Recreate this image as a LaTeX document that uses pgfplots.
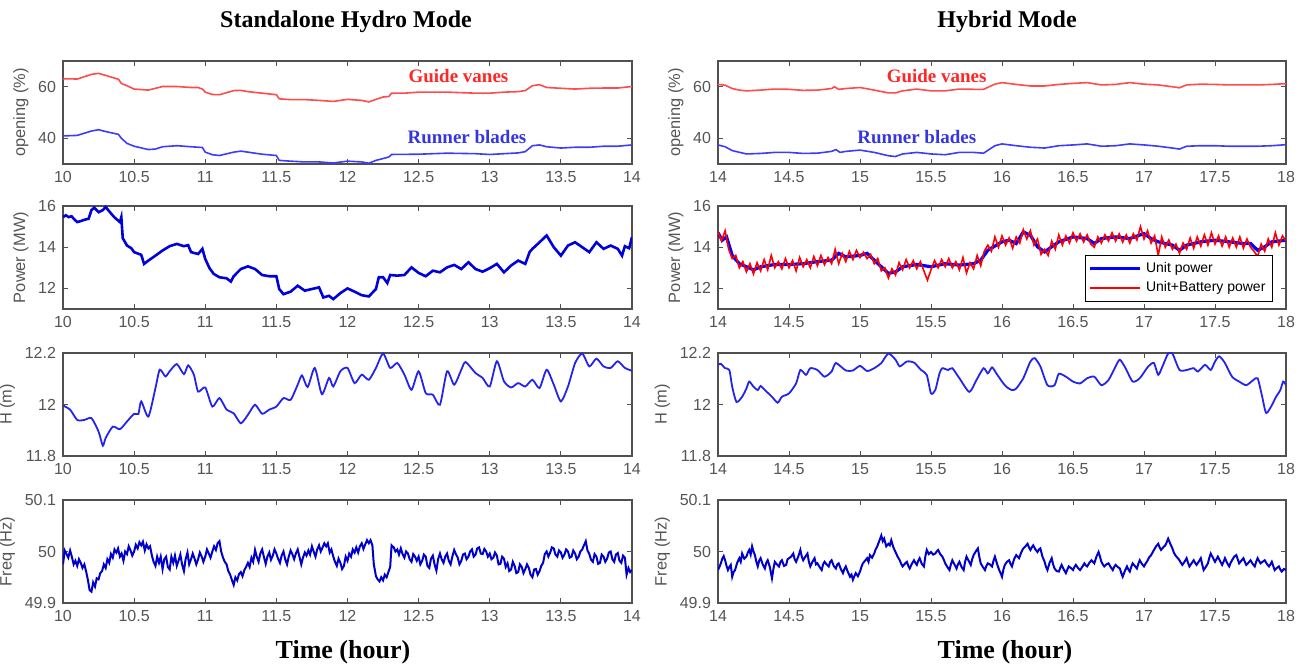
\documentclass[border=0pt]{standalone}
\usepackage{fontspec}
\setmainfont{Liberation Sans}
\newfontfamily\titlefont{Liberation Serif}
\usepackage{pgfplots}
\pgfplotsset{compat=1.18}
\definecolor{axgray}{RGB}{80,80,80}
\definecolor{tkgray}{RGB}{85,85,85}
\definecolor{gvred}{RGB}{255,75,75}
\definecolor{rbblue}{RGB}{60,60,250}
\definecolor{pblue}{RGB}{0,0,220}
\definecolor{hblue}{RGB}{35,35,240}
\definecolor{fblue}{RGB}{0,0,205}
\definecolor{ured}{RGB}{255,0,0}
\pgfplotsset{
 panel/.style={scale only axis, height=51.5pt, anchor=south west,
  axis line style={axgray, line width=0.6pt},
  major tick style={axgray, line width=0.5pt}, major tick length=2.5pt, tick align=inside,
  tick label style={font=\fontsize{8}{9}\selectfont, text=tkgray},
  /pgf/number format/assume math mode=true,
  ylabel style={font=\fontsize{8.2}{9.5}\selectfont, text=tkgray},
  ylabel shift=-2pt,
  legend image code/.code={\draw[#1] (0pt,0pt) -- (25pt,0pt);}},
 leftp/.style={panel, width=284.5pt, xmin=10, xmax=14, xtick={10,10.5,...,14}},
 rightp/.style={panel, width=284pt, xmin=14, xmax=18, xtick={14,14.5,...,18}},
 r1/.style={ymin=30, ymax=70, ytick={40,60}, ylabel={opening (\%)}},
 r2/.style={ymin=11, ymax=16, ytick={12,14,16}, ylabel={Power (MW)}},
 r3/.style={ymin=11.8, ymax=12.2, ytick={11.8,12,12.2}, ylabel={H (m)}},
 r4/.style={ymin=49.9, ymax=50.1, ytick={49.9,50,50.1}, ylabel={Freq (Hz)}},
}
\newcommand{\lbl}{\titlefont\bfseries\fontsize{9.5}{11}\selectfont}
\begin{document}
\begin{tikzpicture}
\path[use as bounding box] (0,0) rectangle (653pt,-333.5pt);
\node[font=\titlefont\bfseries\fontsize{12}{14}\selectfont] at (173pt,-11pt) {Standalone Hydro Mode};
\node[font=\titlefont\bfseries\fontsize{12}{14}\selectfont] at (503.5pt,-11pt) {Hybrid Mode};
\node[font=\titlefont\bfseries\fontsize{13}{15}\selectfont] at (171.5pt,-326pt) {Time (hour)};
\node[font=\titlefont\bfseries\fontsize{13}{15}\selectfont] at (502.5pt,-326pt) {Time (hour)};

% ---------- Row 1 left
\begin{axis}[leftp, r1, at={(31.5pt,-82pt)}]
\addplot[gvred, line width=0.8pt] coordinates {(10.0,63.1)(10.1,63.0)(10.2,64.8)(10.25,65.2)(10.3,64.4)(10.39,62.9)(10.41,61.3)(10.45,60.4)(10.5,59.1)(10.6,58.7)(10.65,59.4)(10.7,60.1)(10.8,60.1)(10.9,59.7)(10.95,59.7)(10.98,59.1)(11.0,57.9)(11.05,57.0)(11.1,56.9)(11.2,58.5)(11.25,58.6)(11.3,58.1)(11.4,57.5)(11.5,56.9)(11.52,55.3)(11.6,55.0)(11.7,55.0)(11.8,54.7)(11.9,54.3)(12.0,55.1)(12.1,54.7)(12.15,54.1)(12.2,55.1)(12.25,56.0)(12.29,56.2)(12.31,57.5)(12.4,57.5)(12.5,57.9)(12.7,57.9)(12.9,57.5)(13.0,57.5)(13.1,57.9)(13.2,58.1)(13.25,58.5)(13.3,60.4)(13.35,60.8)(13.4,59.7)(13.5,59.4)(13.6,59.1)(13.7,59.4)(13.8,59.5)(13.9,59.5)(14.0,60.1)};
\addplot[rbblue, line width=0.8pt] coordinates {(10.0,40.9)(10.1,41.1)(10.2,42.8)(10.25,43.3)(10.3,42.6)(10.39,41.5)(10.41,40.0)(10.45,38.0)(10.5,36.9)(10.6,35.6)(10.65,35.8)(10.7,36.7)(10.8,37.1)(10.9,36.7)(10.98,36.4)(11.0,34.6)(11.05,33.6)(11.1,33.3)(11.2,34.6)(11.25,35.0)(11.3,34.6)(11.4,33.8)(11.5,33.3)(11.52,31.4)(11.6,31.1)(11.7,30.8)(11.8,30.8)(11.9,30.4)(12.0,31.1)(12.1,30.8)(12.15,30.3)(12.2,31.4)(12.29,32.7)(12.31,33.7)(12.5,33.8)(12.7,34.2)(12.9,34.0)(13.0,33.7)(13.1,34.0)(13.2,34.3)(13.25,34.8)(13.3,37.1)(13.35,37.4)(13.4,36.7)(13.5,36.2)(13.6,36.5)(13.7,36.5)(13.8,36.9)(13.9,36.9)(14.0,37.4)};
\node[text=ured!85, font=\lbl] at (axis cs:12.78,64.2) {Guide vanes};
\node[text=rbblue!90!black, font=\lbl] at (axis cs:12.84,40.4) {Runner blades};
\end{axis}

% ---------- Row 1 right
\begin{axis}[rightp, r1, at={(359pt,-82pt)}]
\addplot[gvred, line width=0.8pt] coordinates {(14.0,60.9)(14.05,60.6)(14.1,59.3)(14.15,58.7)(14.2,58.4)(14.3,58.7)(14.4,59.1)(14.5,59.0)(14.6,58.6)(14.7,58.7)(14.8,59.3)(14.82,60.0)(14.85,59.0)(14.9,59.3)(15.0,59.7)(15.1,58.7)(15.2,57.6)(15.25,57.6)(15.3,58.4)(15.4,59.1)(15.5,58.4)(15.6,58.4)(15.7,59.1)(15.8,59.0)(15.87,59.0)(15.95,61.0)(16.0,61.6)(16.1,60.9)(16.2,60.3)(16.3,60.3)(16.4,60.9)(16.5,61.3)(16.6,61.6)(16.7,60.7)(16.8,60.9)(16.9,61.6)(17.0,61.0)(17.1,60.7)(17.2,60.0)(17.25,59.6)(17.3,60.7)(17.4,61.0)(17.5,60.9)(17.6,60.7)(17.7,60.7)(17.8,60.7)(17.9,60.9)(18.0,61.2)};
\addplot[rbblue, line width=0.8pt] coordinates {(14.0,37.4)(14.05,36.7)(14.1,35.2)(14.2,33.9)(14.3,34.1)(14.4,34.5)(14.5,34.5)(14.6,34.1)(14.7,34.2)(14.8,34.9)(14.83,35.6)(14.86,34.5)(14.9,34.9)(15.0,35.4)(15.1,34.5)(15.2,33.2)(15.25,32.9)(15.3,33.9)(15.4,34.5)(15.5,33.9)(15.6,33.6)(15.7,34.5)(15.8,34.5)(15.87,34.2)(15.95,37.1)(16.0,37.8)(16.1,37.1)(16.2,36.5)(16.3,36.2)(16.4,37.1)(16.5,37.4)(16.6,37.8)(16.7,36.9)(16.8,37.1)(16.9,37.8)(17.0,37.4)(17.1,36.9)(17.2,36.2)(17.25,35.8)(17.3,36.9)(17.4,37.1)(17.5,37.1)(17.6,36.9)(17.7,36.9)(17.8,36.9)(17.9,37.1)(18.0,37.5)};
\node[text=ured!85, font=\lbl] at (axis cs:15.54,64.2) {Guide vanes};
\node[text=rbblue!90!black, font=\lbl] at (axis cs:15.40,40.4) {Runner blades};
\end{axis}

% ---------- Row 2 left
\begin{axis}[leftp, r2, at={(31.5pt,-154.5pt)}]
\addplot[pblue, line width=1.3pt] coordinates {(10.0,15.46)(10.02,15.55)(10.04,15.46)(10.06,15.5)(10.08,15.35)(10.1,15.22)(10.13,15.28)(10.15,15.33)(10.18,15.38)(10.2,15.8)(10.22,15.92)(10.25,15.7)(10.28,15.8)(10.3,15.95)(10.33,15.7)(10.36,15.46)(10.4,15.22)(10.41,15.46)(10.42,14.44)(10.45,14.08)(10.48,13.95)(10.5,13.76)(10.55,13.63)(10.57,13.19)(10.6,13.35)(10.65,13.59)(10.7,13.84)(10.75,14.05)(10.8,14.16)(10.85,14.05)(10.88,14.1)(10.9,13.76)(10.95,13.67)(10.98,13.92)(11.0,13.43)(11.03,12.98)(11.06,12.7)(11.1,12.54)(11.15,12.49)(11.18,12.33)(11.2,12.59)(11.25,12.94)(11.3,13.07)(11.35,12.94)(11.4,12.65)(11.45,12.59)(11.5,12.59)(11.52,11.97)(11.55,11.72)(11.6,11.84)(11.65,12.13)(11.7,11.89)(11.75,11.97)(11.8,12.05)(11.83,11.56)(11.87,11.64)(11.9,11.48)(11.95,11.77)(12.0,12.0)(12.05,11.84)(12.1,11.67)(12.15,11.61)(12.2,11.97)(12.22,12.54)(12.25,12.54)(12.28,12.26)(12.3,12.65)(12.35,12.62)(12.4,12.65)(12.45,13.02)(12.5,12.75)(12.55,12.59)(12.6,12.86)(12.65,12.78)(12.7,13.02)(12.75,13.14)(12.8,12.94)(12.85,13.27)(12.9,12.94)(12.95,12.81)(13.0,12.98)(13.05,13.19)(13.1,12.78)(13.15,13.11)(13.2,13.35)(13.25,13.19)(13.28,13.76)(13.3,13.92)(13.35,14.24)(13.4,14.57)(13.45,14.0)(13.5,13.59)(13.55,14.08)(13.6,14.24)(13.65,14.0)(13.7,13.76)(13.75,14.24)(13.8,13.92)(13.85,14.08)(13.9,13.92)(13.93,13.59)(13.95,14.05)(13.98,13.95)(14.0,14.49)};
\end{axis}

% ---------- Row 2 right
\begin{axis}[rightp, r2, at={(359pt,-154.5pt)},
  legend style={at={(0.977,0.068)}, anchor=south east, font=\fontsize{7}{8}\selectfont, draw=black, line width=0.5pt, inner sep=1.5pt, row sep=-1pt, cells={anchor=west}}]
\addplot[blue, line width=1.6pt] coordinates {(14.0,14.7)(14.03,14.34)(14.06,14.5)(14.1,13.6)(14.15,13.2)(14.2,13.05)(14.25,12.9)(14.3,13.05)(14.4,13.16)(14.5,13.16)(14.6,13.2)(14.7,13.3)(14.8,13.37)(14.85,13.7)(14.9,13.53)(15.0,13.6)(15.05,13.7)(15.1,13.37)(15.15,13.05)(15.2,12.73)(15.25,12.8)(15.3,13.05)(15.4,13.16)(15.5,13.05)(15.6,13.2)(15.7,13.13)(15.8,13.2)(15.85,13.37)(15.9,13.85)(16.0,14.26)(16.05,14.34)(16.1,14.18)(16.15,14.74)(16.2,14.58)(16.25,14.02)(16.3,13.77)(16.35,14.02)(16.4,14.26)(16.5,14.5)(16.6,14.42)(16.65,14.18)(16.7,14.42)(16.8,14.5)(16.9,14.42)(17.0,14.66)(17.05,14.42)(17.1,14.26)(17.2,14.1)(17.25,13.85)(17.3,14.1)(17.4,14.26)(17.5,14.34)(17.6,14.26)(17.7,14.18)(17.75,14.18)(17.8,13.85)(17.85,14.02)(17.9,14.26)(18.0,14.34)};
\addlegendentry{Unit power}
\addplot[ured, line width=0.8pt] coordinates {(14.0,14.75)(14.025,14.3)(14.05,14.8)(14.075,13.9)(14.1,13.45)(14.125,13.6)(14.15,13.0)(14.175,13.3)(14.2,12.8)(14.225,13.2)(14.25,12.7)(14.275,13.25)(14.3,12.85)(14.325,13.4)(14.35,12.9)(14.375,13.6)(14.4,13.0)(14.425,13.3)(14.45,12.95)(14.475,13.45)(14.5,13.0)(14.525,13.35)(14.55,12.85)(14.575,13.5)(14.6,13.05)(14.625,13.4)(14.65,13.0)(14.675,13.55)(14.7,13.1)(14.725,13.6)(14.75,13.15)(14.775,13.5)(14.8,13.2)(14.825,13.9)(14.85,13.2)(14.875,13.7)(14.9,13.3)(14.925,13.8)(14.95,13.4)(14.975,13.85)(15.0,13.5)(15.025,13.75)(15.05,13.45)(15.075,13.65)(15.1,13.2)(15.125,13.45)(15.15,12.85)(15.175,13.0)(15.2,12.5)(15.225,12.95)(15.25,12.65)(15.275,13.25)(15.3,12.9)(15.325,13.4)(15.35,13.0)(15.375,13.35)(15.4,12.95)(15.425,13.3)(15.45,12.85)(15.475,12.4)(15.5,12.9)(15.525,13.35)(15.55,13.0)(15.575,13.4)(15.6,13.05)(15.625,13.45)(15.65,13.0)(15.675,13.3)(15.7,12.9)(15.725,13.5)(15.75,12.75)(15.775,13.25)(15.8,12.95)(15.825,13.6)(15.85,13.1)(15.875,13.8)(15.9,14.1)(15.925,13.8)(15.95,14.5)(15.975,14.0)(16.0,14.55)(16.025,14.1)(16.05,14.45)(16.075,13.95)(16.1,14.5)(16.125,14.2)(16.15,14.85)(16.175,14.4)(16.2,14.8)(16.225,14.1)(16.25,14.4)(16.275,13.65)(16.3,13.9)(16.325,13.6)(16.35,14.3)(16.375,13.9)(16.4,14.6)(16.425,14.1)(16.45,14.55)(16.475,14.2)(16.5,14.7)(16.525,14.3)(16.55,14.65)(16.575,14.25)(16.6,14.6)(16.625,14.15)(16.65,14.0)(16.675,14.5)(16.7,14.2)(16.725,14.6)(16.75,14.3)(16.775,14.7)(16.8,14.3)(16.825,14.65)(16.85,14.25)(16.875,14.6)(16.9,14.2)(16.925,14.65)(16.95,14.35)(16.975,15.0)(17.0,14.4)(17.025,14.8)(17.05,14.2)(17.075,14.55)(17.1,13.6)(17.125,14.5)(17.15,14.0)(17.175,14.35)(17.2,13.9)(17.225,14.15)(17.25,13.7)(17.275,14.2)(17.3,13.9)(17.325,14.45)(17.35,13.95)(17.375,14.5)(17.4,14.05)(17.425,14.6)(17.45,14.1)(17.475,14.7)(17.5,14.15)(17.525,14.55)(17.55,14.05)(17.575,14.5)(17.6,14.0)(17.625,14.45)(17.65,14.0)(17.675,14.5)(17.7,13.95)(17.725,14.4)(17.75,14.0)(17.775,13.8)(17.8,13.55)(17.825,14.15)(17.85,13.8)(17.875,14.4)(17.9,14.0)(17.925,14.7)(17.95,14.1)(17.975,14.55)(18.0,14.3)};
\addlegendentry{Unit+Battery power}
\end{axis}

% ---------- Row 3 left
\begin{axis}[leftp, r3, at={(31.5pt,-228pt)}]
\addplot[hblue, line width=0.9pt, smooth, tension=0.4] coordinates {(10.0,11.996)(10.05,11.98)(10.1,11.94)(10.15,11.94)(10.2,11.947)(10.25,11.895)(10.28,11.84)(10.3,11.87)(10.35,11.914)(10.4,11.904)(10.45,11.934)(10.5,11.964)(10.53,11.963)(10.55,12.012)(10.6,11.953)(10.65,12.064)(10.68,12.135)(10.72,12.109)(10.75,12.129)(10.8,12.157)(10.85,12.118)(10.88,12.152)(10.92,12.116)(10.95,12.05)(11.0,12.066)(11.05,11.992)(11.1,12.025)(11.15,11.98)(11.2,11.966)(11.25,11.927)(11.3,11.96)(11.35,11.999)(11.4,11.964)(11.45,11.98)(11.5,11.992)(11.55,12.025)(11.6,12.018)(11.65,12.077)(11.68,12.113)(11.72,12.068)(11.77,12.142)(11.82,12.04)(11.87,12.103)(11.9,12.07)(11.95,12.129)(12.0,12.142)(12.05,12.083)(12.1,12.116)(12.15,12.096)(12.2,12.142)(12.25,12.198)(12.3,12.142)(12.35,12.161)(12.4,12.116)(12.45,12.057)(12.5,12.129)(12.55,12.044)(12.6,12.038)(12.65,11.999)(12.7,12.129)(12.75,12.077)(12.8,12.135)(12.83,12.165)(12.9,12.122)(12.95,12.103)(13.0,12.07)(13.05,12.168)(13.1,12.09)(13.15,12.066)(13.2,12.083)(13.25,12.07)(13.3,12.096)(13.35,12.064)(13.4,12.135)(13.45,12.077)(13.5,12.012)(13.55,12.07)(13.6,12.161)(13.65,12.198)(13.7,12.148)(13.75,12.178)(13.8,12.148)(13.85,12.142)(13.9,12.168)(13.95,12.142)(14.0,12.131)};
\end{axis}

% ---------- Row 3 right
\begin{axis}[rightp, r3, at={(359pt,-228pt)}]
\addplot[hblue, line width=0.9pt, smooth, tension=0.4] coordinates {(14.0,12.154)(14.02,12.158)(14.05,12.141)(14.08,12.134)(14.1,12.069)(14.13,12.01)(14.17,12.03)(14.2,12.062)(14.22,12.089)(14.25,12.069)(14.28,12.056)(14.3,12.072)(14.33,12.056)(14.38,12.03)(14.42,12.007)(14.45,12.03)(14.5,12.043)(14.55,12.082)(14.58,12.134)(14.62,12.115)(14.65,12.141)(14.7,12.134)(14.75,12.108)(14.8,12.128)(14.83,12.161)(14.9,12.132)(14.95,12.132)(15.0,12.15)(15.05,12.13)(15.1,12.141)(15.15,12.161)(15.2,12.198)(15.25,12.174)(15.28,12.148)(15.33,12.167)(15.38,12.163)(15.43,12.134)(15.47,12.115)(15.5,12.043)(15.53,12.056)(15.56,12.121)(15.58,12.141)(15.62,12.134)(15.65,12.141)(15.7,12.102)(15.77,12.049)(15.82,12.095)(15.87,12.141)(15.9,12.121)(15.93,12.144)(15.96,12.121)(16.0,12.089)(16.03,12.069)(16.07,12.056)(16.1,12.062)(16.15,12.102)(16.2,12.167)(16.23,12.18)(16.27,12.148)(16.32,12.075)(16.37,12.075)(16.4,12.119)(16.45,12.108)(16.5,12.089)(16.55,12.082)(16.6,12.102)(16.65,12.108)(16.7,12.075)(16.75,12.095)(16.8,12.148)(16.83,12.174)(16.87,12.141)(16.92,12.089)(16.97,12.102)(17.03,12.148)(17.07,12.161)(17.1,12.115)(17.13,12.148)(17.17,12.198)(17.2,12.198)(17.25,12.134)(17.3,12.134)(17.35,12.141)(17.38,12.128)(17.43,12.154)(17.47,12.134)(17.5,12.167)(17.53,12.187)(17.57,12.161)(17.62,12.108)(17.67,12.089)(17.72,12.075)(17.77,12.095)(17.8,12.102)(17.83,12.036)(17.86,11.967)(17.9,11.997)(17.93,12.03)(17.96,12.056)(17.98,12.089)(18.0,12.075)};
\end{axis}

% ---------- Row 4 left
\begin{axis}[leftp, r4, at={(31.5pt,-301.5pt)}]
\addplot[fblue, line width=1.0pt] coordinates {(10.0,49.975)(10.012,50.002)(10.025,49.995)(10.037,49.988)(10.05,50.002)(10.062,49.99)(10.075,49.975)(10.087,49.982)(10.1,49.972)(10.112,49.985)(10.125,49.978)(10.137,49.968)(10.15,49.975)(10.162,49.962)(10.175,49.945)(10.187,49.925)(10.2,49.922)(10.212,49.94)(10.225,49.932)(10.237,49.948)(10.25,49.946)(10.262,49.958)(10.275,49.962)(10.287,49.975)(10.3,49.968)(10.312,49.985)(10.325,49.978)(10.337,49.995)(10.35,49.988)(10.362,50.004)(10.375,49.998)(10.387,50.006)(10.4,49.99)(10.412,49.996)(10.425,49.982)(10.437,50.0)(10.45,49.995)(10.462,50.01)(10.475,50.002)(10.487,49.992)(10.5,50.0)(10.512,50.013)(10.525,50.006)(10.537,50.018)(10.55,50.012)(10.562,50.019)(10.575,50.002)(10.587,50.014)(10.6,50.006)(10.612,50.01)(10.625,49.992)(10.637,49.98)(10.65,49.972)(10.662,49.99)(10.675,49.978)(10.687,49.99)(10.7,49.966)(10.712,49.985)(10.725,49.99)(10.737,49.97)(10.75,49.965)(10.762,49.99)(10.775,49.978)(10.787,49.992)(10.8,49.972)(10.812,49.982)(10.825,49.994)(10.837,49.975)(10.85,49.962)(10.862,49.985)(10.875,49.998)(10.887,49.975)(10.9,49.985)(10.912,49.996)(10.925,49.986)(10.937,49.975)(10.95,49.985)(10.962,49.998)(10.975,49.99)(10.987,49.98)(11.0,49.99)(11.012,50.004)(11.025,49.996)(11.037,49.988)(11.05,50.0)(11.062,50.01)(11.075,50.003)(11.087,50.016)(11.1,50.02)(11.112,50.0)(11.125,49.988)(11.137,49.98)(11.15,49.975)(11.162,49.962)(11.175,49.955)(11.187,49.945)(11.2,49.935)(11.212,49.95)(11.225,49.944)(11.237,49.956)(11.25,49.96)(11.262,49.952)(11.275,49.964)(11.287,49.97)(11.3,49.978)(11.312,49.97)(11.325,49.988)(11.337,49.98)(11.35,50.003)(11.362,49.99)(11.375,49.98)(11.387,49.996)(11.4,50.004)(11.412,49.99)(11.425,49.976)(11.437,49.99)(11.45,49.998)(11.462,49.984)(11.475,49.992)(11.487,50.004)(11.5,49.996)(11.512,49.986)(11.525,49.978)(11.537,49.992)(11.55,50.0)(11.562,49.985)(11.575,49.975)(11.587,49.99)(11.6,50.002)(11.612,49.995)(11.625,49.985)(11.637,49.996)(11.65,50.004)(11.662,49.99)(11.675,49.975)(11.687,49.988)(11.7,49.998)(11.712,49.992)(11.725,50.002)(11.737,49.994)(11.75,50.01)(11.762,50.0)(11.775,49.99)(11.787,50.004)(11.8,50.012)(11.812,50.0)(11.825,50.008)(11.837,50.016)(11.85,50.01)(11.862,50.016)(11.875,49.998)(11.887,50.004)(11.9,49.99)(11.912,49.98)(11.925,49.972)(11.937,49.986)(11.95,49.978)(11.962,49.966)(11.975,49.972)(11.987,49.99)(12.0,49.982)(12.012,49.996)(12.025,49.99)(12.037,50.004)(12.05,49.998)(12.062,50.008)(12.075,49.998)(12.087,50.01)(12.1,50.016)(12.112,50.005)(12.125,50.014)(12.137,50.022)(12.15,50.016)(12.162,50.022)(12.175,50.012)(12.185,49.975)(12.2,49.952)(12.212,49.946)(12.225,49.942)(12.237,49.95)(12.25,49.944)(12.262,49.955)(12.275,49.95)(12.29,49.962)(12.3,49.97)(12.31,50.012)(12.325,50.008)(12.337,50.0)(12.35,50.004)(12.362,49.994)(12.375,50.006)(12.387,49.995)(12.4,49.988)(12.412,50.0)(12.425,49.996)(12.437,49.985)(12.45,49.98)(12.462,49.995)(12.475,49.99)(12.487,49.982)(12.5,49.99)(12.512,49.975)(12.525,49.982)(12.537,49.994)(12.55,49.99)(12.562,49.972)(12.575,49.968)(12.587,49.986)(12.6,49.992)(12.612,49.975)(12.625,49.963)(12.637,49.985)(12.65,49.996)(12.662,49.985)(12.675,49.978)(12.687,49.99)(12.7,49.996)(12.712,49.982)(12.725,49.975)(12.737,49.99)(12.75,50.003)(12.762,49.995)(12.775,49.988)(12.787,49.975)(12.8,49.982)(12.812,49.994)(12.825,49.996)(12.837,49.985)(12.85,49.99)(12.862,50.0)(12.875,50.004)(12.887,49.99)(12.9,49.994)(12.912,50.006)(12.925,50.008)(12.937,49.996)(12.95,49.995)(12.962,50.005)(12.975,50.0)(12.987,49.99)(13.0,49.996)(13.012,49.985)(13.025,49.988)(13.037,49.998)(13.05,49.992)(13.062,49.975)(13.075,49.976)(13.087,49.99)(13.1,49.986)(13.112,49.97)(13.125,49.977)(13.137,49.962)(13.15,49.965)(13.162,49.98)(13.175,49.972)(13.187,49.958)(13.2,49.96)(13.212,49.975)(13.225,49.97)(13.237,49.958)(13.25,49.966)(13.262,49.975)(13.275,49.968)(13.287,49.955)(13.3,49.95)(13.312,49.965)(13.325,49.966)(13.337,49.955)(13.35,49.962)(13.362,49.972)(13.375,49.978)(13.387,49.995)(13.4,50.0)(13.412,49.99)(13.425,49.998)(13.437,50.008)(13.45,50.006)(13.462,49.994)(13.475,49.99)(13.487,50.002)(13.5,49.998)(13.512,49.988)(13.525,49.994)(13.537,50.004)(13.55,50.0)(13.562,49.988)(13.575,49.99)(13.587,50.002)(13.6,49.996)(13.612,49.985)(13.625,49.99)(13.637,50.0)(13.65,50.004)(13.662,50.012)(13.675,50.02)(13.687,50.002)(13.7,49.995)(13.712,49.984)(13.725,49.98)(13.737,49.995)(13.75,49.99)(13.762,49.976)(13.775,49.978)(13.787,49.994)(13.8,49.99)(13.812,49.98)(13.825,49.986)(13.837,49.998)(13.85,50.0)(13.862,49.985)(13.875,49.98)(13.887,49.994)(13.9,49.997)(13.912,49.982)(13.925,49.978)(13.937,49.992)(13.95,49.988)(13.962,49.955)(13.975,49.968)(13.987,49.96)(14.0,49.964)};
\end{axis}

% ---------- Row 4 right
\begin{axis}[rightp, r4, at={(359pt,-301.5pt)}]
\addplot[fblue, line width=1.0pt] coordinates {(14.0,49.964)(14.01,49.97)(14.02,49.977)(14.03,49.986)(14.04,49.991)(14.05,49.983)(14.06,49.972)(14.07,49.964)(14.08,49.97)(14.09,49.974)(14.1,49.951)(14.11,49.96)(14.12,49.964)(14.135,49.978)(14.15,49.987)(14.16,49.98)(14.17,49.996)(14.185,49.986)(14.2,49.990)(14.21,49.998)(14.22,50.003)(14.23,49.994)(14.24,50.010)(14.25,50.0)(14.26,49.993)(14.27,49.98)(14.28,49.971)(14.29,49.982)(14.3,49.987)(14.315,49.975)(14.33,49.967)(14.34,49.978)(14.35,49.983)(14.365,49.97)(14.38,49.948)(14.39,49.966)(14.4,49.980)(14.415,49.975)(14.43,49.971)(14.44,49.98)(14.45,49.983)(14.465,49.972)(14.48,49.974)(14.49,49.985)(14.5,49.987)(14.515,49.99)(14.53,49.996)(14.54,49.985)(14.55,49.980)(14.565,49.99)(14.58,50.003)(14.59,49.99)(14.6,49.983)(14.615,49.99)(14.63,49.996)(14.64,49.98)(14.65,49.971)(14.665,49.98)(14.68,49.987)(14.69,49.975)(14.7,49.977)(14.715,49.97)(14.73,49.964)(14.74,49.975)(14.75,49.980)(14.765,49.975)(14.78,49.971)(14.79,49.98)(14.8,49.983)(14.815,49.972)(14.83,49.967)(14.84,49.975)(14.85,49.977)(14.865,49.966)(14.88,49.958)(14.89,49.966)(14.9,49.971)(14.915,49.96)(14.93,49.951)(14.94,49.955)(14.95,49.945)(14.96,49.952)(14.97,49.958)(14.985,49.952)(15.0,49.961)(15.01,49.97)(15.02,49.977)(15.035,49.982)(15.05,49.987)(15.06,49.98)(15.07,49.993)(15.085,49.988)(15.1,49.996)(15.11,50.004)(15.12,50.009)(15.135,50.02)(15.15,50.031)(15.16,50.02)(15.17,50.025)(15.185,50.01)(15.2,50.015)(15.21,50.012)(15.22,50.022)(15.235,50.008)(15.25,49.999)(15.265,49.99)(15.28,49.983)(15.29,49.976)(15.3,49.971)(15.315,49.976)(15.33,49.980)(15.34,49.972)(15.35,49.967)(15.365,49.976)(15.38,49.983)(15.39,49.978)(15.4,49.974)(15.41,49.982)(15.42,49.987)(15.435,49.976)(15.45,49.971)(15.46,49.99)(15.47,50.003)(15.485,49.995)(15.5,49.999)(15.515,49.994)(15.53,49.996)(15.54,50.0)(15.55,50.003)(15.565,49.995)(15.58,49.990)(15.59,49.984)(15.6,49.977)(15.615,49.97)(15.63,49.964)(15.64,49.975)(15.65,49.983)(15.665,49.975)(15.68,49.967)(15.69,49.975)(15.7,49.980)(15.715,49.97)(15.73,49.964)(15.74,49.98)(15.75,49.990)(15.765,49.982)(15.78,49.974)(15.79,49.985)(15.8,49.993)(15.815,50.0)(15.83,50.006)(15.84,49.99)(15.85,49.977)(15.865,49.97)(15.88,49.964)(15.89,49.972)(15.9,49.977)(15.915,49.975)(15.93,49.971)(15.94,49.982)(15.95,49.990)(15.965,49.976)(15.98,49.964)(15.99,49.958)(16.0,49.951)(16.01,49.965)(16.02,49.974)(16.035,49.98)(16.05,49.983)(16.06,49.976)(16.07,49.971)(16.085,49.985)(16.1,49.993)(16.11,49.99)(16.12,49.987)(16.135,49.998)(16.15,50.006)(16.165,50.01)(16.18,50.015)(16.19,50.008)(16.2,50.003)(16.21,50.008)(16.22,50.012)(16.235,50.004)(16.25,49.999)(16.26,50.004)(16.27,50.006)(16.285,49.99)(16.3,49.980)(16.31,49.97)(16.32,49.964)(16.335,49.978)(16.35,49.987)(16.36,49.975)(16.37,49.967)(16.385,49.962)(16.4,49.961)(16.41,49.968)(16.42,49.974)(16.435,49.965)(16.45,49.958)(16.46,49.965)(16.47,49.971)(16.485,49.968)(16.5,49.964)(16.51,49.97)(16.52,49.974)(16.535,49.968)(16.55,49.964)(16.565,49.97)(16.58,49.977)(16.59,49.973)(16.6,49.971)(16.615,49.978)(16.63,49.983)(16.64,49.98)(16.65,49.977)(16.665,49.99)(16.68,49.999)(16.69,49.99)(16.7,49.980)(16.71,49.975)(16.72,49.971)(16.735,49.975)(16.75,49.977)(16.765,49.97)(16.78,49.964)(16.79,49.97)(16.8,49.974)(16.815,49.97)(16.83,49.967)(16.84,49.958)(16.85,49.951)(16.865,49.962)(16.88,49.971)(16.89,49.965)(16.9,49.961)(16.91,49.97)(16.92,49.977)(16.935,49.972)(16.95,49.967)(16.96,49.976)(16.97,49.983)(16.985,49.976)(17.0,49.971)(17.01,49.976)(17.02,49.980)(17.035,49.988)(17.05,49.993)(17.06,49.998)(17.07,50.003)(17.085,50.01)(17.1,50.015)(17.11,50.008)(17.12,50.003)(17.135,50.008)(17.15,50.012)(17.16,50.018)(17.17,50.025)(17.185,50.015)(17.2,50.006)(17.21,49.998)(17.22,49.993)(17.235,49.988)(17.25,49.983)(17.26,49.978)(17.27,49.974)(17.285,49.98)(17.3,49.987)(17.31,49.978)(17.32,49.971)(17.335,49.977)(17.35,49.983)(17.36,49.978)(17.37,49.974)(17.385,49.98)(17.4,49.987)(17.41,49.975)(17.42,49.964)(17.435,49.97)(17.45,49.977)(17.46,49.988)(17.47,49.996)(17.485,49.988)(17.5,49.980)(17.51,49.985)(17.52,49.990)(17.535,49.982)(17.55,49.974)(17.56,49.98)(17.57,49.987)(17.585,49.978)(17.6,49.971)(17.61,49.978)(17.62,49.983)(17.635,49.99)(17.65,49.993)(17.66,49.985)(17.67,49.977)(17.685,49.982)(17.7,49.987)(17.71,49.98)(17.72,49.974)(17.735,49.978)(17.75,49.983)(17.765,49.976)(17.78,49.971)(17.79,49.98)(17.8,49.987)(17.81,49.982)(17.82,49.977)(17.835,49.98)(17.85,49.983)(17.865,49.976)(17.88,49.971)(17.89,49.975)(17.9,49.980)(17.91,49.972)(17.92,49.964)(17.935,49.968)(17.95,49.971)(17.96,49.965)(17.97,49.961)(17.985,49.966)(18.0,49.964)};
\end{axis}
\end{tikzpicture}
\end{document}
